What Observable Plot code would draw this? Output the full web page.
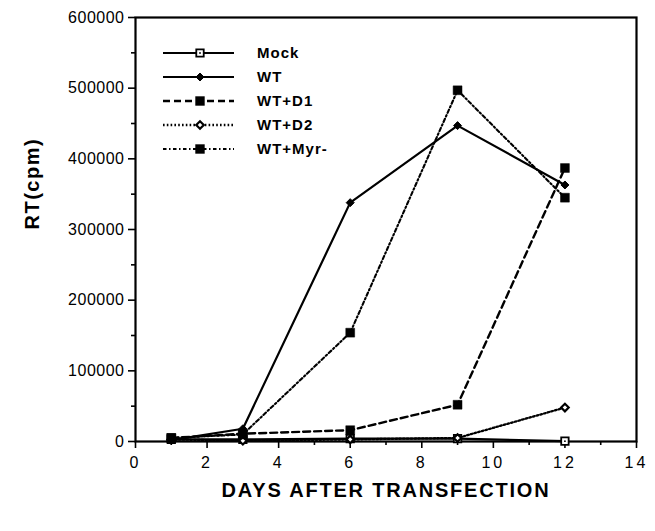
<!DOCTYPE html>
<html><head><meta charset="utf-8">
<script src="https://cdn.jsdelivr.net/npm/d3@7"></script>
<script src="https://cdn.jsdelivr.net/npm/@observablehq/plot@0.6"></script>
<style>
body{margin:0;background:#fff;}
#chart{width:655px;height:531px;}
#chart svg{font-family:"Liberation Sans",Arial,Helvetica,sans-serif;}
</style></head><body><div id="chart"></div>
<script>
const days = [1, 3, 6, 9, 12];
const seriesNames = ["Mock", "WT", "WT+D1", "WT+D2", "WT+Myr-"];
const mock  = [3000, 3000, 4000, 4000, 500];
const wt    = [2000, 18000, 338000, 447000, 363000];
const wtD1  = [5000, 11000, 16000, 52000, 387000];
const wtD2  = [3000, 1000, 3000, 5000, 48000];
const wtMyr = [5000, 10000, 154000, 497000, 345000];
const xMajorTicks = [0, 2, 4, 6, 8, 10, 12, 14];
const xMinorTicks = [1, 3, 5, 7, 9, 11, 13];
const yMajorTicks = [0, 100000, 200000, 300000, 400000, 500000, 600000];
const yMinorTicks = [50000, 150000, 250000, 350000, 450000, 550000];
const xTitle = "DAYS AFTER TRANSFECTION";
const yTitle = "RT(cpm)";

const seriesValues = [mock, wt, wtD1, wtD2, wtMyr];
const styles = {
  "Mock":    {dash: null,            sw: 2.2, symbol: "square",   fill: "white", stroke: "black", r: 4.2, msw: 1.8, inner: true},
  "WT":      {dash: null,            sw: 2.2, symbol: "diamond2", fill: "black", stroke: "black", r: 3.6, msw: 1,   inner: false},
  "WT+D1":   {dash: "7,4",           sw: 2.4, symbol: "square",   fill: "black", stroke: "black", r: 5,   msw: 0.5, inner: false},
  "WT+D2":   {dash: "1.6,2.2",       sw: 2.3, symbol: "diamond2", fill: "white", stroke: "black", r: 3.4, msw: 2.2, inner: false},
  "WT+Myr-": {dash: "3.5,2.5,1.5,2.5", sw: 2.1, symbol: "square", fill: "black", stroke: "black", r: 5,   msw: 0.5, inner: false}
};
const rows = seriesNames.flatMap((s, i) => days.map((d, j) => ({series: s, day: d, value: seriesValues[i][j]})));

const marks = [];
seriesNames.forEach(s => {
  const st = styles[s];
  const data = rows.filter(r => r.series === s);
  marks.push(Plot.line(data, {x: "day", y: "value", stroke: "black", strokeWidth: st.sw, strokeDasharray: st.dash || undefined}));
});
seriesNames.forEach(s => {
  const st = styles[s];
  const data = rows.filter(r => r.series === s);
  marks.push(Plot.dot(data, {x: "day", y: "value", symbol: () => st.symbol, r: st.r, fill: st.fill, stroke: st.stroke, strokeWidth: st.msw}));
  if (st.inner) marks.push(Plot.dot(data, {x: "day", y: "value", r: 0.9, fill: "black"}));
});

const plot = Plot.plot({
  width: 655,
  height: 531,
  marginLeft: 135,
  marginRight: 19,
  marginTop: 17,
  marginBottom: 90,
  style: {fontFamily: '"Liberation Sans", Arial, sans-serif', background: "white", color: "black"},
  x: {domain: [0, 14], axis: null},
  y: {domain: [0, 600000], axis: null},
  marks: [
    Plot.axisX(xMajorTicks, {tickSize: 7, strokeWidth: 1.6, tickPadding: 8, fontSize: 16, label: null, tickFormat: d => String(d)}),
    Plot.axisX(xMinorTicks, {tickSize: 4, strokeWidth: 1.6, label: null, tickFormat: () => ""}),
    Plot.axisY(yMajorTicks, {tickSize: 7, strokeWidth: 1.6, tickPadding: 4, fontSize: 16, label: null, tickFormat: d => String(d)}),
    Plot.axisY(yMinorTicks, {tickSize: 4, strokeWidth: 1.6, label: null, tickFormat: () => ""}),
    Plot.frame({stroke: "black", strokeWidth: 2.2}),
    ...marks,
    Plot.text([yTitle], {frameAnchor: "left", rotate: -90, dx: -103, fontSize: 20, fontWeight: "bold", fill: "black"}),
    Plot.text([xTitle], {frameAnchor: "bottom", dy: 55, fontSize: 20, fontWeight: "bold", fill: "black"})
  ]
});
document.getElementById("chart").appendChild(plot);

const svg = d3.select(plot);
svg.selectAll('g[aria-label="x-axis tick label"] text').style("letter-spacing", "3px").style("font-size", "16px");
svg.selectAll('g[aria-label="y-axis tick label"] text').style("letter-spacing", "0.5px").style("font-size", "16px");
svg.selectAll("text").filter(function() { return this.textContent === xTitle; }).style("letter-spacing", "1.8px");
svg.selectAll("text").filter(function() { return this.textContent === yTitle; }).style("letter-spacing", "1.5px");

// legend
const lg = svg.append("g").attr("class", "legend");
const symMap = {square: d3.symbolSquare, diamond2: d3.symbolDiamond2};
seriesNames.forEach((s, i) => {
  const st = styles[s];
  const y = 53 + i * 24;
  const g = lg.append("g").attr("transform", `translate(0,${y})`);
  g.append("line").attr("x1", 163).attr("x2", 234).attr("y1", 0).attr("y2", 0)
    .attr("stroke", "black").attr("stroke-width", st.sw).attr("stroke-dasharray", st.dash);
  g.append("path").attr("transform", "translate(200,0)")
    .attr("d", d3.symbol(symMap[st.symbol], Math.PI * st.r * st.r)())
    .attr("fill", st.fill).attr("stroke", st.stroke).attr("stroke-width", st.msw);
  if (st.inner) g.append("circle").attr("cx", 200).attr("cy", 0).attr("r", 0.9).attr("fill", "black");
  g.append("text").attr("x", 257).attr("y", 0).attr("dy", "0.35em").attr("text-anchor", "start")
    .style("font-size", "15px").style("font-weight", "bold").style("letter-spacing", "1px").text(s);
});
</script></body></html>
